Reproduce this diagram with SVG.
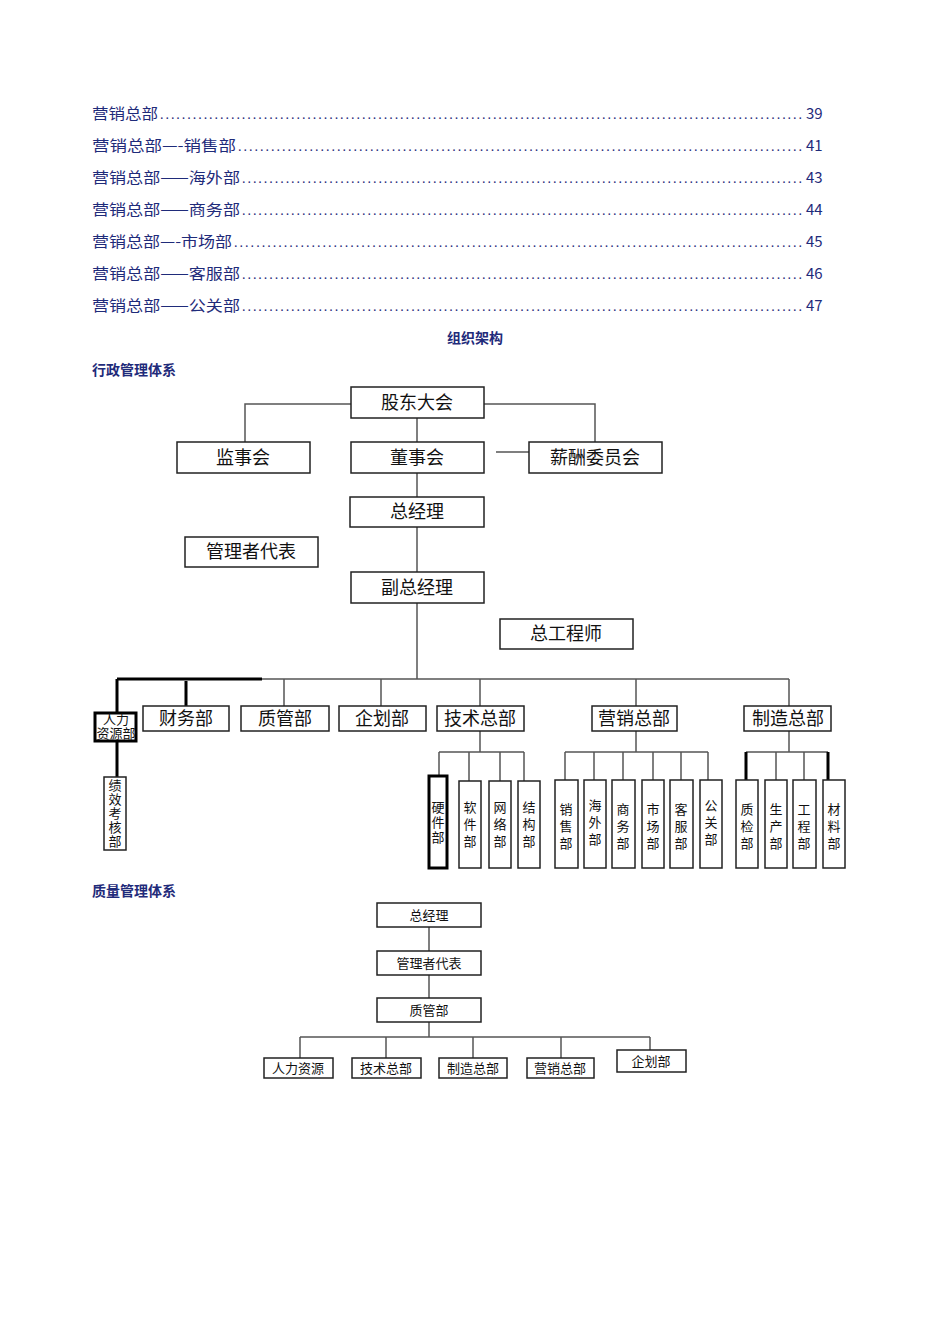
<svg xmlns="http://www.w3.org/2000/svg" width="950" height="1344" viewBox="0 0 950 1344">
<style>
.toc{font-family:"Noto Sans CJK SC","Liberation Serif",serif;font-size:15px;fill:#1f2b7a}
.dots{font-family:"Liberation Serif",serif;font-size:14px;fill:#1f2b7a}
.h{font-family:"Noto Sans CJK SC",sans-serif;font-size:14px;font-weight:bold;fill:#1f2b7a}
.b{fill:#fff;stroke:#222;stroke-width:1.5}
.bk{fill:#fff;stroke:#000;stroke-width:3}
.t{font-family:"Noto Sans CJK SC",sans-serif;font-size:18px;fill:#111;text-anchor:middle}
.s{font-family:"Noto Sans CJK SC",sans-serif;font-size:13px;fill:#111;text-anchor:middle}
.v{font-family:"Noto Sans CJK SC",sans-serif;font-size:13px;fill:#111;text-anchor:middle}
.c{stroke:#555;stroke-width:1.5;fill:none}
.ck{stroke:#000;stroke-width:3;fill:none}
</style>
<g id="toc">
<text class="toc" x="92" y="119" textLength="66" lengthAdjust="spacingAndGlyphs">营销总部</text><text class="dots" x="160" y="119" textLength="642" lengthAdjust="spacing">......................................................................................................................</text><text class="toc" x="806" y="119">39</text>
<text class="toc" x="92" y="151" textLength="144" lengthAdjust="spacingAndGlyphs">营销总部—-销售部</text><text class="dots" x="238" y="151" textLength="564" lengthAdjust="spacing">.......................................................................................................</text><text class="toc" x="806" y="151">41</text>
<text class="toc" x="92" y="183" textLength="148" lengthAdjust="spacingAndGlyphs">营销总部——海外部</text><text class="dots" x="242" y="183" textLength="560" lengthAdjust="spacing">.......................................................................................................</text><text class="toc" x="806" y="183">43</text>
<text class="toc" x="92" y="215" textLength="148" lengthAdjust="spacingAndGlyphs">营销总部——商务部</text><text class="dots" x="242" y="215" textLength="560" lengthAdjust="spacing">.......................................................................................................</text><text class="toc" x="806" y="215">44</text>
<text class="toc" x="92" y="247" textLength="140" lengthAdjust="spacingAndGlyphs">营销总部—-市场部</text><text class="dots" x="234" y="247" textLength="568" lengthAdjust="spacing">.......................................................................................................</text><text class="toc" x="806" y="247">45</text>
<text class="toc" x="92" y="279" textLength="148" lengthAdjust="spacingAndGlyphs">营销总部——客服部</text><text class="dots" x="242" y="279" textLength="560" lengthAdjust="spacing">.......................................................................................................</text><text class="toc" x="806" y="279">46</text>
<text class="toc" x="92" y="311" textLength="148" lengthAdjust="spacingAndGlyphs">营销总部——公关部</text><text class="dots" x="242" y="311" textLength="560" lengthAdjust="spacing">.......................................................................................................</text><text class="toc" x="806" y="311">47</text>
</g>
<text class="h" x="475" y="343" text-anchor="middle">组织架构</text>
<text class="h" x="92" y="375">行政管理体系</text>
<text class="h" x="92" y="896">质量管理体系</text>
<g id="connectors">
<path class="c" d="M245 442V404H595V442M417 418V442M417 473V497M496 452H529M417 527V572M417 603V679M260 679H789M284 679V706M381 679V706M480 679V706M636 679V706M789 679V706"/>
<path class="ck" d="M117 679H262M117 679V713M186 681V706M117 741V777"/>
<path class="c" d="M480 731V752M439 752H524M439 752V776M469 752V781M500 752V781M524 752V781"/>
<path class="c" d="M636 731V752M565 752H708M565 752V780M594 752V780M623 752V780M653 752V780M681 752V780M708 752V780"/>
<path class="c" d="M789 731V752M746 752H828M776 752V780M804 752V780"/>
<path class="ck" d="M746 752V782M828 752V780"/>
<path class="c" d="M429 927V951M429 975V998M429 1022V1037M300 1037H650M300 1037V1058M386 1037V1058M473 1037V1058M561 1037V1058M650 1037V1050"/>
</g>
<g id="n1"><rect class="b" x="351" y="387" width="133" height="31"/><text class="t" x="417" y="409">股东大会</text></g>
<g id="n2"><rect class="b" x="177" y="442" width="133" height="31"/><text class="t" x="243" y="464">监事会</text></g>
<g id="n3"><rect class="b" x="351" y="442" width="133" height="31"/><text class="t" x="417" y="464">董事会</text></g>
<g id="n4"><rect class="b" x="529" y="442" width="133" height="31"/><text class="t" x="595" y="464">薪酬委员会</text></g>
<g id="n5"><rect class="b" x="350" y="497" width="134" height="30"/><text class="t" x="417" y="518">总经理</text></g>
<g id="n6"><rect class="b" x="185" y="537" width="133" height="30"/><text class="t" x="251" y="558">管理者代表</text></g>
<g id="n7"><rect class="b" x="351" y="572" width="133" height="31"/><text class="t" x="417" y="594">副总经理</text></g>
<g id="n8"><rect class="b" x="500" y="619" width="133" height="30"/><text class="t" x="566" y="640">总工程师</text></g>
<g id="n9"><rect class="bk" x="95" y="713" width="41" height="28"/><text class="s" x="116" y="724" font-size="10">人力</text><text class="s" x="116" y="738" font-size="10">资源部</text></g>
<g id="n10"><rect class="b" x="143" y="706" width="86" height="25"/><text class="t" x="186" y="725">财务部</text></g>
<g id="n11"><rect class="b" x="241" y="706" width="88" height="25"/><text class="t" x="285" y="725">质管部</text></g>
<g id="n12"><rect class="b" x="339" y="706" width="87" height="25"/><text class="t" x="382" y="725">企划部</text></g>
<g id="n13"><rect class="b" x="437" y="706" width="87" height="25"/><text class="t" x="480" y="725">技术总部</text></g>
<g id="n14"><rect class="b" x="592" y="706" width="85" height="25"/><text class="t" x="634" y="725">营销总部</text></g>
<g id="n15"><rect class="b" x="744" y="706" width="87" height="25"/><text class="t" x="788" y="725">制造总部</text></g>
<g id="n16"><rect class="b" x="104" y="777" width="22" height="73"/><text class="v" x="115" y="790" font-size="11"><tspan x="115">绩</tspan><tspan x="115" dy="14">效</tspan><tspan x="115" dy="14">考</tspan><tspan x="115" dy="14">核</tspan><tspan x="115" dy="14">部</tspan></text></g>
<g id="n17"><rect class="bk" x="429" y="776" width="18" height="92"/><text class="v" x="438" y="812" font-size="11"><tspan x="438">硬</tspan><tspan x="438" dy="15">件</tspan><tspan x="438" dy="15">部</tspan></text></g>
<g id="n18"><rect class="b" x="459" y="781" width="22" height="87"/><text class="v" x="470" y="812"><tspan x="470">软</tspan><tspan x="470" dy="17">件</tspan><tspan x="470" dy="17">部</tspan></text></g>
<g id="n19"><rect class="b" x="489" y="781" width="22" height="87"/><text class="v" x="500" y="812"><tspan x="500">网</tspan><tspan x="500" dy="17">络</tspan><tspan x="500" dy="17">部</tspan></text></g>
<g id="n20"><rect class="b" x="518" y="781" width="22" height="87"/><text class="v" x="529" y="812"><tspan x="529">结</tspan><tspan x="529" dy="17">构</tspan><tspan x="529" dy="17">部</tspan></text></g>
<g id="n21"><rect class="b" x="555" y="780" width="23" height="88"/><text class="v" x="566" y="814"><tspan x="566">销</tspan><tspan x="566" dy="17">售</tspan><tspan x="566" dy="17">部</tspan></text></g>
<g id="n22"><rect class="b" x="584" y="780" width="22" height="88"/><text class="v" x="595" y="810"><tspan x="595">海</tspan><tspan x="595" dy="17">外</tspan><tspan x="595" dy="17">部</tspan></text></g>
<g id="n23"><rect class="b" x="612" y="780" width="23" height="88"/><text class="v" x="623" y="814"><tspan x="623">商</tspan><tspan x="623" dy="17">务</tspan><tspan x="623" dy="17">部</tspan></text></g>
<g id="n24"><rect class="b" x="642" y="780" width="22" height="88"/><text class="v" x="653" y="814"><tspan x="653">市</tspan><tspan x="653" dy="17">场</tspan><tspan x="653" dy="17">部</tspan></text></g>
<g id="n25"><rect class="b" x="670" y="780" width="23" height="88"/><text class="v" x="681" y="814"><tspan x="681">客</tspan><tspan x="681" dy="17">服</tspan><tspan x="681" dy="17">部</tspan></text></g>
<g id="n26"><rect class="b" x="700" y="780" width="22" height="88"/><text class="v" x="711" y="810"><tspan x="711">公</tspan><tspan x="711" dy="17">关</tspan><tspan x="711" dy="17">部</tspan></text></g>
<g id="n27"><rect class="b" x="736" y="780" width="22" height="88"/><text class="v" x="747" y="814"><tspan x="747">质</tspan><tspan x="747" dy="17">检</tspan><tspan x="747" dy="17">部</tspan></text></g>
<g id="n28"><rect class="b" x="765" y="780" width="22" height="88"/><text class="v" x="776" y="814"><tspan x="776">生</tspan><tspan x="776" dy="17">产</tspan><tspan x="776" dy="17">部</tspan></text></g>
<g id="n29"><rect class="b" x="793" y="780" width="23" height="88"/><text class="v" x="804" y="814"><tspan x="804">工</tspan><tspan x="804" dy="17">程</tspan><tspan x="804" dy="17">部</tspan></text></g>
<g id="n30"><rect class="b" x="823" y="780" width="22" height="88"/><text class="v" x="834" y="814"><tspan x="834">材</tspan><tspan x="834" dy="17">料</tspan><tspan x="834" dy="17">部</tspan></text></g>
<g id="q1"><rect class="b" x="377" y="903" width="104" height="24"/><text class="s" x="429" y="920">总经理</text></g>
<g id="q2"><rect class="b" x="377" y="951" width="104" height="24"/><text class="s" x="429" y="968">管理者代表</text></g>
<g id="q3"><rect class="b" x="377" y="998" width="104" height="24"/><text class="s" x="429" y="1015">质管部</text></g>
<g id="q4"><rect class="b" x="264" y="1058" width="69" height="20"/><text class="s" x="298" y="1073">人力资源</text></g>
<g id="q5"><rect class="b" x="352" y="1058" width="69" height="20"/><text class="s" x="386" y="1073">技术总部</text></g>
<g id="q6"><rect class="b" x="439" y="1058" width="68" height="20"/><text class="s" x="473" y="1073">制造总部</text></g>
<g id="q7"><rect class="b" x="527" y="1058" width="67" height="20"/><text class="s" x="560" y="1073">营销总部</text></g>
<g id="q8"><rect class="b" x="617" y="1050" width="69" height="22"/><text class="s" x="651" y="1066">企划部</text></g>
</svg>
